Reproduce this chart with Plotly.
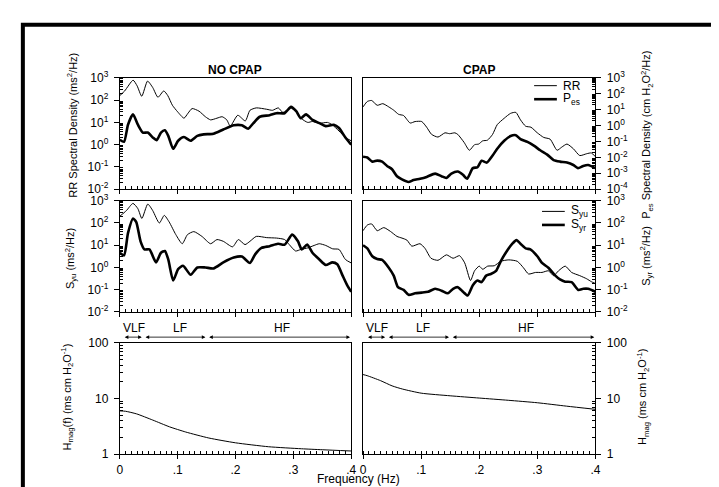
import plotly.graph_objects as go

W, H = 719, 487

# ---------------- data ----------------
# NO CPAP, top panel
f_rr_nocpap = [0, 0.0085, 0.023, 0.030, 0.038, 0.048, 0.057, 0.066, 0.076, 0.083, 0.091, 0.100,
               0.111, 0.118, 0.125, 0.137, 0.148, 0.157, 0.168, 0.177, 0.185, 0.191, 0.204, 0.217,
               0.225, 0.236, 0.254, 0.264, 0.274, 0.282, 0.295, 0.304, 0.313, 0.325, 0.333, 0.345,
               0.359, 0.367, 0.379, 0.390, 0.4]
rr_nocpap = [160, 260, 790, 440, 150, 720, 370, 135, 260, 160, 59, 30,
             15.5, 26, 42, 32, 18, 13, 15.5, 18, 13, 6.8, 21, 11.7,
             35, 45, 39, 35, 45, 28, 45, 32, 15.5, 10, 11, 9.1,
             10, 7.9, 4.1, 2.1, 1.5]

f_pes_nocpap = [0, 0.0074, 0.0142, 0.0228, 0.0313, 0.0399, 0.0484, 0.057, 0.0638, 0.0712, 0.078,
                0.0838, 0.0923, 0.1009, 0.111, 0.1225, 0.134, 0.145, 0.162, 0.179, 0.197, 0.211,
                0.222, 0.231, 0.242, 0.259, 0.271, 0.285, 0.296, 0.305, 0.313, 0.322, 0.333, 0.345,
                0.356, 0.370, 0.379, 0.390, 0.4]
pes_nocpap = [1.66, 1.35, 7.9, 23, 7.9, 3.5, 3.5, 2.1, 1.6, 3.5, 4.4,
              2.5, 0.65, 1.5, 2.2, 1.5, 2.5, 2.9, 3.1, 4.8, 7.4, 7.4,
              5.2, 9.3, 18, 21, 26, 26, 50, 32, 15.5, 23, 13, 9.3,
              6.8, 7.9, 5.6, 2.1, 1.0]

# CPAP, top panel (right axis scale)
f_rr_cpap = [0, 0.0074, 0.0148, 0.0244, 0.034, 0.0443, 0.0528, 0.0613, 0.0698, 0.0811, 0.0896,
             0.101, 0.1095, 0.118, 0.129, 0.141, 0.149, 0.158, 0.163, 0.174, 0.183, 0.192, 0.199,
             0.206, 0.214, 0.223, 0.231, 0.243, 0.254, 0.263, 0.271, 0.280, 0.289, 0.300, 0.311,
             0.322, 0.334, 0.342, 0.351, 0.362, 0.373, 0.385, 0.393, 0.4]
rr_cpap = [15, 33, 38, 19, 24, 15, 9.3, 5.1, 4.3, 1.45, 1.8,
           1.8, 0.79, 0.28, 0.19, 0.35, 0.31, 0.35, 0.28, 0.087, 0.028, 0.063, 0.069,
           0.11, 0.12, 0.28, 1.15, 2.9, 5.9, 6.8, 2.3, 0.91, 0.79, 0.35, 0.18,
           0.14, 0.028, 0.044, 0.069, 0.035, 0.013, 0.017, 0.019, 0.011]

f_pes_cpap = [0, 0.0074, 0.0159, 0.0244, 0.0329, 0.0414, 0.0499, 0.0584, 0.067, 0.0783, 0.0868,
              0.0982, 0.1095, 0.124, 0.135, 0.1435, 0.152, 0.163, 0.172, 0.179, 0.189, 0.197,
              0.204, 0.213, 0.223, 0.231, 0.243, 0.254, 0.263, 0.271, 0.283, 0.294, 0.305, 0.317,
              0.328, 0.339, 0.351, 0.362, 0.370, 0.379, 0.3875, 0.4]
pes_cpap = [0.011, 0.0098, 0.0054, 0.0062, 0.0054, 0.0029, 0.0018, 0.00065, 0.00041, 0.00028, 0.00037,
            0.00045, 0.00059, 0.00095, 0.00065, 0.00051, 0.00095, 0.0013, 0.00081, 0.00045, 0.0021, 0.0024,
            0.0062, 0.0047, 0.013, 0.035, 0.11, 0.22, 0.25, 0.14, 0.095, 0.055, 0.028, 0.015,
            0.0068, 0.0054, 0.0047, 0.0033, 0.0021, 0.0029, 0.0033, 0.0021]

# NO CPAP, middle panel
f_syu_nocpap = [0, 0.0114, 0.0228, 0.0313, 0.0382, 0.0484, 0.057, 0.0684, 0.0769, 0.0855, 0.0969,
                0.108, 0.117, 0.128, 0.142, 0.157, 0.168, 0.179, 0.195, 0.205, 0.2165, 0.225, 0.236,
                0.254, 0.271, 0.285, 0.293, 0.304, 0.313, 0.325, 0.336, 0.345, 0.356, 0.368, 0.379,
                0.390, 0.4]
syu_nocpap = [200, 360, 760, 440, 160, 710, 360, 100, 220, 110, 30,
              11.7, 30, 41, 25, 11.7, 18, 15, 8.5, 18, 10.7, 15, 25,
              22, 21, 18, 10.7, 5.5, 6.5, 7.6, 9.8, 11.7, 9.8, 6.9, 6.5,
              2.3, 1.6]

f_syr_nocpap = [0, 0.0074, 0.0142, 0.0228, 0.0285, 0.0359, 0.0427, 0.0513, 0.0627, 0.0712, 0.078,
                0.0838, 0.0923, 0.1009, 0.1094, 0.1225, 0.134, 0.148, 0.162, 0.179, 0.197, 0.211,
                0.225, 0.234, 0.245, 0.259, 0.2735, 0.285, 0.298, 0.308, 0.3145, 0.324, 0.333, 0.345,
                0.356, 0.3675, 0.376, 0.385, 0.393, 0.4]
syr_nocpap = [4.6, 3.5, 35, 160, 110, 15, 6.5, 6.5, 1.7, 4.6, 5.5,
              2.3, 0.26, 0.85, 1.2, 0.47, 1.0, 1.0, 0.91, 1.7, 2.8, 3.1,
              1.6, 3.9, 7.6, 9.1, 11.7, 10.7, 30, 15, 6.5, 10.7, 4.6, 2.3,
              1.3, 1.7, 1.4, 0.44, 0.16, 0.081]

# CPAP, middle panel
f_syu_cpap = [0, 0.0074, 0.0148, 0.0244, 0.0357, 0.0471, 0.0584, 0.067, 0.0755, 0.084, 0.098,
              0.1067, 0.117, 0.129, 0.1435, 0.155, 0.166, 0.175, 0.185, 0.192, 0.200, 0.206,
              0.2145, 0.226, 0.237, 0.251, 0.2655, 0.276, 0.285, 0.297, 0.308, 0.319, 0.328,
              0.3365, 0.348, 0.359, 0.373, 0.385, 0.393, 0.4]
syu_cpap = [45, 81, 91, 45, 62, 42, 25, 21, 17, 9.1, 11.7,
            7.2, 2.6, 2.1, 3.7, 2.6, 3.4, 1.6, 0.26, 0.71, 1.15, 0.83,
            1.15, 1.2, 1.9, 2.2, 1.9, 0.98, 0.51, 0.60, 0.60, 0.71, 0.43,
            0.71, 1.15, 0.60, 0.43, 0.31, 0.23, 0.19]

f_syr_cpap = [0, 0.0074, 0.0159, 0.0244, 0.0329, 0.0443, 0.0528, 0.0601, 0.0698, 0.0783, 0.0896,
              0.101, 0.112, 0.124, 0.135, 0.146, 0.155, 0.163, 0.172, 0.180, 0.189, 0.197,
              0.204, 0.212, 0.220, 0.229, 0.237, 0.2485, 0.257, 0.264, 0.271, 0.280, 0.288,
              0.300, 0.308, 0.319, 0.331, 0.339, 0.348, 0.359, 0.3705, 0.379, 0.3875, 0.4]
syr_cpap = [10, 7.2, 3.2, 2.4, 2.2, 0.98, 0.43, 0.13, 0.098, 0.059, 0.069,
            0.074, 0.081, 0.11, 0.091, 0.069, 0.11, 0.13, 0.081, 0.055, 0.16, 0.26,
            0.22, 0.43, 0.51, 0.71, 1.9, 6.0, 11.7, 17, 11.7, 7.2, 6.5,
            3.2, 1.6, 0.98, 0.43, 0.29, 0.23, 0.22, 0.098, 0.11, 0.11, 0.081]

# Transfer magnitude, bottom panels
f_hmag_nocpap = [0, 0.01, 0.029, 0.057, 0.086, 0.114, 0.154, 0.2, 0.257, 0.314, 0.35, 0.4]
hmag_nocpap = [6.0, 5.9, 5.3, 4.1, 3.1, 2.5, 1.95, 1.6, 1.36, 1.25, 1.2, 1.14]

f_hmag_cpap = [0, 0.007, 0.03, 0.05, 0.068, 0.1, 0.15, 0.2, 0.25, 0.3, 0.35, 0.4]
hmag_cpap = [27, 25.8, 21, 16.9, 14.8, 12.5, 11.2, 10.2, 9.3, 8.4, 7.3, 6.4]

# tick labels
x_tickvals = [0, 0.1, 0.2, 0.3, 0.4]
x_ticktext = ["0", ".1", ".2", ".3", ".4"]
exp_main = [-2, -1, 0, 1, 2, 3]
exp_pes = [-4, -3, -2, -1, 0, 1, 2, 3]
hmag_tickvals = [1, 10, 100]
hmag_ticktext = ["1", "10", "100"]

# frequency bands
band_edges = [0, 0.04, 0.15, 0.4]
band_names = ["VLF", "LF", "HF"]

# ---------------- layout helpers ----------------
FONT = "Liberation Sans, Arial, sans-serif"


def pxx(p):
    return p / W


def pxy(p):
    return 1 - p / H


cols = [(110, 344), (356, 591)]
rows = [(63, 178), (190, 305), (337, 452)]


def dec_vals(exps):
    return [10.0 ** e for e in exps]


def dec_text(exps):
    return ["10<sup>%d</sup>" % e for e in exps]


def minor_vals(lo, hi):
    out = []
    for e in range(lo, hi):
        for m in range(2, 10):
            out.append(m * 10.0 ** e)
    return out


y_specs = [
    (exp_main, dec_vals(exp_main), dec_text(exp_main)),
    (exp_pes, dec_vals(exp_pes), dec_text(exp_pes)),
    (exp_main, dec_vals(exp_main), dec_text(exp_main)),
    (exp_main, dec_vals(exp_main), dec_text(exp_main)),
    ([0, 1, 2], hmag_tickvals, hmag_ticktext),
    ([0, 1, 2], hmag_tickvals, hmag_ticktext),
]

fig = go.Figure()
layout = dict(
    width=W, height=H, autosize=False,
    margin=dict(l=0, r=0, t=0, b=0),
    paper_bgcolor="white", plot_bgcolor="white",
    showlegend=False,
    font=dict(family=FONT, size=12, color="black"),
)

for i in range(6):
    r, c = divmod(i, 2)
    n = "" if i == 0 else str(i + 1)
    x0, x1 = cols[c]
    y0, y1 = rows[r]
    exps, tv, tt = y_specs[i]
    layout["xaxis" + n] = dict(
        domain=[pxx(x0), pxx(x1)], anchor="y" + n, range=[0, 0.4],
        showline=True, linecolor="black", linewidth=1, mirror=True,
        showgrid=False, zeroline=False,
        tickmode="array", tickvals=x_tickvals, ticktext=x_ticktext,
        ticks="outside", ticklen=4, tickcolor="black", tickwidth=1,
        showticklabels=(r == 2), tickfont=dict(size=12), ticklabelstandoff=0,
        minor=dict(tickmode="linear", tick0=0, dtick=0.01, ticks="inside",
                   ticklen=3, tickcolor="black", tickwidth=1, showgrid=False),
    )
    layout["yaxis" + n] = dict(
        domain=[pxy(y1), pxy(y0)], anchor="x" + n, type="log",
        range=[exps[0], exps[-1]],
        side="left" if c == 0 else "right",
        showline=True, linecolor="black", linewidth=1, mirror=True,
        showgrid=False, zeroline=False,
        tickmode="array", tickvals=tv, ticktext=tt,
        ticks="outside", ticklen=5, tickcolor="black", tickwidth=1,
        tickfont=dict(size=12), ticklabelstandoff=3,
        minor=dict(tickmode="array", tickvals=minor_vals(exps[0], exps[-1]),
                   ticks="inside", ticklen=3, tickcolor="black", tickwidth=1,
                   showgrid=False),
    )

thin = dict(color="black", width=1)
thick = dict(color="black", width=2.6)

series = [
    (f_rr_nocpap, rr_nocpap, thin, 1),
    (f_pes_nocpap, pes_nocpap, thick, 1),
    (f_rr_cpap, rr_cpap, thin, 2),
    (f_pes_cpap, pes_cpap, thick, 2),
    (f_syu_nocpap, syu_nocpap, thin, 3),
    (f_syr_nocpap, syr_nocpap, thick, 3),
    (f_syu_cpap, syu_cpap, thin, 4),
    (f_syr_cpap, syr_cpap, thick, 4),
    (f_hmag_nocpap, hmag_nocpap, thin, 5),
    (f_hmag_cpap, hmag_cpap, thin, 6),
]
for fx, fy, ln, p in series:
    n = "" if p == 1 else str(p)
    fig.add_trace(go.Scatter(x=fx, y=fy, mode="lines", line=dict(shape="spline", smoothing=0.6, **ln),
                             xaxis="x" + n, yaxis="y" + n, hoverinfo="skip"))

ann = []
shapes = []

# outer frame
shapes.append(dict(type="rect", xref="paper", yref="paper", x0=pxx(12), x1=pxx(711),
                   y0=pxy(8), y1=pxy(500), line=dict(color="black", width=4)))

# column titles
ann.append(dict(text="<b>NO CPAP</b>", x=pxx(227), y=pxy(55), xref="paper", yref="paper",
                showarrow=False, font=dict(size=12), xanchor="center", yanchor="middle"))
ann.append(dict(text="<b>CPAP</b>", x=pxx(473), y=pxy(55), xref="paper", yref="paper",
                showarrow=False, font=dict(size=12), xanchor="center", yanchor="middle"))
ann.append(dict(text="Frequency (Hz)", x=pxx(351), y=pxy(478), xref="paper", yref="paper",
                showarrow=False, font=dict(size=12), xanchor="center", yanchor="middle",
                borderpad=0))

# axis titles
titles = [
    ("RR Spectral Density (ms<sup>2</sup>/Hz)", 62, 112),
    ("S<sub>yu</sub> (ms<sup>2</sup>/Hz)", 60, 250),
    ("H<sub>mag</sub>(f) (ms cm H<sub>2</sub>O<sup>-1</sup>)", 57, 393),
    ("P<sub>es</sub> Spectral Density (cm H<sub>2</sub>O<sup>2</sup>/Hz)", 643, 122),
    ("S<sub>yr</sub> (ms<sup>2</sup>/Hz)", 642, 247),
    ("H<sub>mag</sub> (ms cm H<sub>2</sub>O<sup>-1</sup>)", 639, 393),
]
for t, x, y in titles:
    ann.append(dict(text=t, x=pxx(x), y=pxy(y), xref="paper", yref="paper", textangle=-90,
                    showarrow=False, font=dict(size=11), xanchor="center", yanchor="middle"))

# in-panel legends
legends = [
    ("RR", thin, 529, 552, 71),
    ("P<sub>es</sub>", thick, 529, 552, 85),
    ("S<sub>yu</sub>", thin, 537, 560, 201),
    ("S<sub>yr</sub>", thick, 537, 560, 215),
]
for t, ln, xa, xb, y in legends:
    shapes.append(dict(type="line", xref="paper", yref="paper", x0=pxx(xa), x1=pxx(xb),
                       y0=pxy(y), y1=pxy(y), line=ln))
    ann.append(dict(text=t, x=pxx(xb + 4), y=pxy(y), xref="paper", yref="paper",
                    showarrow=False, font=dict(size=12), xanchor="left", yanchor="middle"))

# frequency band arrows
label_pos = [0.024, 0.104, 0.28]
for ax_name in ["x5", "x6"]:
    for k in range(3):
        a = band_edges[k] + (0.006 if k == 0 else 0.002)
        b = band_edges[k + 1] - 0.002
        ann.append(dict(x=b, y=pxy(331), xref=ax_name, yref="paper", ax=a, ay=0,
                        axref=ax_name, ayref="pixel", text="", showarrow=True,
                        arrowside="end+start", arrowhead=2, startarrowhead=2,
                        arrowsize=0.9, startarrowsize=0.9, arrowwidth=0.8, arrowcolor="black"))
        ann.append(dict(text=band_names[k], x=label_pos[k], y=pxy(322), xref=ax_name, yref="paper",
                        showarrow=False, font=dict(size=12), xanchor="center", yanchor="middle"))

layout["annotations"] = ann
layout["shapes"] = shapes
fig.update_layout(**layout)
fig.write_html("out.html")
